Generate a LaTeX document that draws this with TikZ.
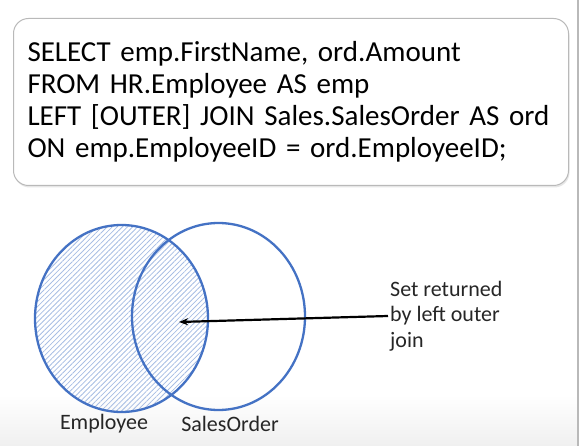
\documentclass[tikz,border=0pt]{standalone}
\usepackage{fontspec}
\setmainfont{Carlito}
\usetikzlibrary{patterns.meta,arrows.meta,shadows}
\definecolor{azulvenn}{HTML}{4472C4}
\definecolor{rayado}{HTML}{A7BDE3}
\begin{document}
\begin{tikzpicture}[x=1pt,y=-1pt,
    conjunto/.style={draw=azulvenn,line width=2.3pt},
    etiqueta/.style={font=\fontsize{22}{25.5}\selectfont,text=black!85,inner sep=2pt}]
    \useasboundingbox (0,0) rectangle (584,446);

    % Dibuja el fondo
    \shade[top color=white,bottom color=gray!12] (0,395) rectangle (578,446);
    \draw[gray!55,line width=1.2pt] (578,0) -- (578,446);

    % Dibuja la consulta
    \node[draw=gray!55,line width=1pt,fill=white,rounded corners=15pt,
          drop shadow={opacity=0.2,shadow xshift=1pt,shadow yshift=-2pt},
          anchor=north west,minimum width=555pt,minimum height=167pt,
          text width=527pt,inner xsep=14pt,align=left,
          font=\fontsize{29}{32}\selectfont] (consulta) at (13,18)
        {SELECT emp.FirstName, ord.Amount\\
         FROM HR.Employee AS emp\\
         LEFT [OUTER] JOIN Sales.SalesOrder AS ord\\
         ON emp.EmployeeID = ord.EmployeeID;\\[-4pt]};

    % Dibuja los conjuntos
    \coordinate (emp) at (121.5,318.5);
    \coordinate (ord) at (218.5,316.5);
    \coordinate (punta) at (179,322);
    \fill[pattern={Lines[angle=45,distance=3.6pt,line width=0.8pt]},pattern color=rayado]
        (emp) ellipse [x radius=86.5pt,y radius=93.5pt];
    \draw[conjunto] (emp) ellipse [x radius=86.5pt,y radius=93.5pt];
    \draw[conjunto] (ord) ellipse [x radius=86.5pt,y radius=93.5pt];

    % Dibuja los nombres y la flecha
    \node[etiqueta] (nomemp) at (104,424) {Employee};
    \node[etiqueta] (nomord) at (230,424) {SalesOrder};
    \node[etiqueta,anchor=west,align=left] (texto) at (388,316)
        {Set returned\\by left outer\\join};
    \draw[-{Stealth[length=9pt,width=7pt]},line width=2.2pt] (texto.west) -- (punta);
\end{tikzpicture}
\end{document}
